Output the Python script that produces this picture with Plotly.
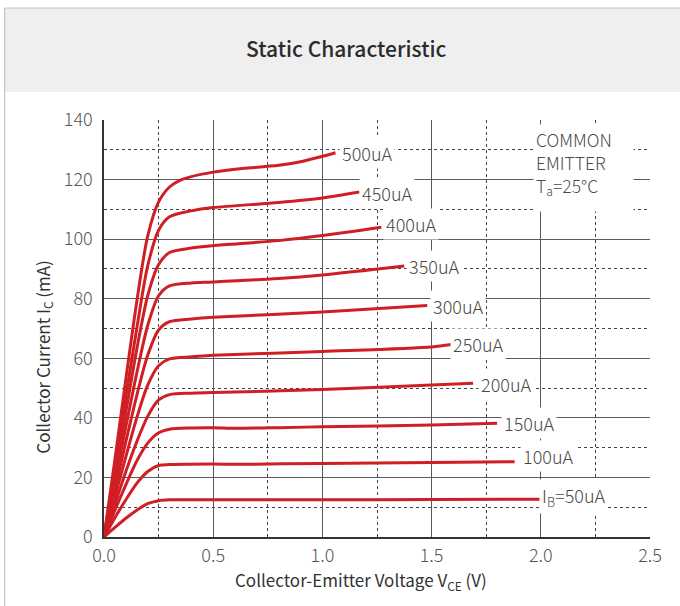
import plotly.graph_objects as go

# Collector current (mA) versus collector-emitter voltage (V) for each base current
vce_50 = [0, 0.05, 0.10, 0.15, 0.20, 0.25, 0.30, 0.50, 1.00, 1.50, 2.00]
ic_50 = [0, 3.2, 6.3, 9.0, 11.2, 12.2, 12.5, 12.5, 12.5, 12.6, 12.7]

vce_100 = [0, 0.05, 0.10, 0.15, 0.20, 0.25, 0.30, 0.50, 0.60, 1.00, 1.50, 1.88]
ic_100 = [0, 6.5, 12.5, 18.0, 22.0, 24.0, 24.3, 24.5, 24.4, 24.7, 25.0, 25.3]

vce_150 = [0, 0.05, 0.10, 0.15, 0.20, 0.25, 0.30, 0.40, 0.50, 0.60, 0.80, 1.00, 1.50, 1.80]
ic_150 = [0, 9.0, 17.5, 25.5, 31.5, 35.0, 36.2, 36.6, 36.7, 36.5, 36.7, 37.0, 37.6, 38.2]

vce_200 = [0, 0.05, 0.10, 0.15, 0.20, 0.25, 0.30, 0.40, 0.50, 1.00, 1.50, 1.69]
ic_200 = [0, 11.0, 22.0, 32.0, 40.5, 46.0, 47.8, 48.3, 48.5, 49.5, 51.0, 51.6]

vce_250 = [0, 0.05, 0.10, 0.15, 0.20, 0.25, 0.30, 0.40, 0.50, 1.00, 1.50, 1.59]
ic_250 = [0, 13.5, 27.0, 40.0, 51.0, 57.5, 59.8, 60.5, 61.0, 62.3, 63.8, 64.6]

vce_300 = [0, 0.05, 0.10, 0.15, 0.20, 0.25, 0.30, 0.40, 0.50, 1.00, 1.48]
ic_300 = [0, 16.0, 32.0, 47.5, 61.0, 69.5, 72.3, 73.2, 73.8, 75.5, 77.7]

vce_350 = [0, 0.05, 0.10, 0.15, 0.20, 0.25, 0.30, 0.40, 0.50, 0.80, 1.00, 1.375]
ic_350 = [0, 18.5, 37.0, 55.0, 71.0, 81.0, 84.3, 85.3, 85.6, 86.8, 88.0, 91.0]

vce_400 = [0, 0.05, 0.10, 0.15, 0.20, 0.25, 0.30, 0.40, 0.50, 0.80, 1.00, 1.27]
ic_400 = [0, 21.0, 42.0, 63.0, 81.0, 91.5, 95.5, 97.0, 97.8, 99.5, 101.2, 104.0]

vce_450 = [0, 0.05, 0.10, 0.15, 0.20, 0.25, 0.30, 0.40, 0.50, 0.80, 1.00, 1.17]
ic_450 = [0, 23.5, 47.0, 70.0, 91.0, 103.0, 107.5, 109.5, 110.6, 112.3, 113.8, 115.8]

vce_500 = [0, 0.05, 0.10, 0.15, 0.20, 0.25, 0.30, 0.35, 0.40, 0.50, 0.60, 0.80, 0.90, 1.00, 1.06]
ic_500 = [0, 26.0, 53.0, 79.0, 101.0, 112.5, 117.5, 119.8, 121.0, 122.5, 123.5, 124.8, 126.0, 127.8, 129.0]

curve_labels = ["I<sub>B</sub>=50uA", "100uA", "150uA", "200uA", "250uA",
                "300uA", "350uA", "400uA", "450uA", "500uA"]
label_x = [2.011, 1.925, 1.838, 1.731, 1.604, 1.509, 1.403, 1.295, 1.188, 1.093]
label_y = [13.7, 27.2, 38.4, 51.4, 64.8, 77.5, 91.0, 105.0, 115.4, 128.8]

x_ticks = [0.0, 0.5, 1.0, 1.5, 2.0, 2.5]
y_ticks = [0, 20, 40, 60, 80, 100, 120, 140]

series = [(vce_50, ic_50), (vce_100, ic_100), (vce_150, ic_150), (vce_200, ic_200),
          (vce_250, ic_250), (vce_300, ic_300), (vce_350, ic_350), (vce_400, ic_400),
          (vce_450, ic_450), (vce_500, ic_500)]

RED = "#d01f24"
FONT = "Noto Sans CJK JP"
TXT = "#4a4a4a"

fig = go.Figure()
for vx, iy in series:
    fig.add_trace(go.Scatter(
        x=vx, y=iy, mode="lines",
        line=dict(color=RED, width=3, shape="spline", smoothing=0.8),
        hoverinfo="skip", showlegend=False,
    ))

# base-current labels on white boxes that break the grid
for txt, lx, ly in zip(curve_labels, label_x, label_y):
    fig.add_annotation(
        x=lx, y=ly, xref="x", yref="y", text=txt, showarrow=False,
        xanchor="left", yanchor="middle", xshift=-4,
        bgcolor="white", borderpad=2,
        font=dict(family=FONT, size=18, color=TXT, weight=300),
    )

# plot area in pixels: left 104.3, right 650, top 120, bottom 537
L, R, T, B = 104.3, 650.0, 120.0, 537.0
W, H = R - L, B - T


def px(xp):
    return (xp - L) / W


def py(yp):
    return (B - yp) / H


fig.add_annotation(
    x=px(533), y=py(124), xref="paper", yref="paper",
    text="COMMON<br>EMITTER<br>T<sub>a</sub>=25°C", showarrow=False,
    xanchor="left", yanchor="top", align="left", valign="top",
    width=95, height=82, bgcolor="white", borderpad=2,
    font=dict(family=FONT, size=17.5, color=TXT, weight=300),
)

# header band and page border
shapes = [
    dict(type="rect", xref="paper", yref="paper", x0=px(5), x1=px(690), y0=py(92), y1=py(8),
         fillcolor="#efefef", line=dict(width=0), layer="below"),
    dict(type="line", xref="paper", yref="paper", x0=px(5), x1=px(690), y0=py(8), y1=py(8),
         line=dict(color="#c4c4c4", width=1.2)),
    dict(type="line", xref="paper", yref="paper", x0=px(5), x1=px(5), y0=py(8), y1=py(610),
         line=dict(color="#c4c4c4", width=1.2)),
]

fig.add_annotation(
    x=px(347), y=py(48), xref="paper", yref="paper", text="Static Characteristic",
    showarrow=False, xanchor="center", yanchor="middle",
    font=dict(family=FONT, size=21, color="#2b2b2b", weight=500),
)
fig.add_annotation(
    x=px(361.5), y=py(580), xref="paper", yref="paper",
    text="Collector-Emitter Voltage V<sub>CE</sub> (V)",
    showarrow=False, xanchor="center", yanchor="middle",
    font=dict(family=FONT, size=17, color="#333333"),
)
fig.add_annotation(
    x=px(43), y=py(357), xref="paper", yref="paper",
    text="Collector Current I<sub>C</sub> (mA)", textangle=-90,
    showarrow=False, xanchor="center", yanchor="middle",
    font=dict(family=FONT, size=17, color="#333333"),
)

axis_common = dict(
    showgrid=True, gridcolor="#5a5a5a", gridwidth=1.2,
    zeroline=False, showline=True, linecolor="#333333", linewidth=1.5,
    ticks="", tickfont=dict(family=FONT, size=18, color="#555555", weight=300),
)

fig.update_xaxes(
    range=[0, 2.5], tickvals=x_ticks, ticktext=[f"{v:.1f}" for v in x_ticks],
    minor=dict(dtick=0.25, showgrid=True, gridcolor="#444444", griddash="dot", gridwidth=1.2),
    ticklabelstandoff=2, **axis_common,
)
fig.update_yaxes(
    range=[0, 140], tickvals=y_ticks,
    minor=dict(dtick=10, showgrid=True, gridcolor="#444444", griddash="dot", gridwidth=1.2),
    ticklabelstandoff=6, **axis_common,
)

fig.update_layout(
    width=680, height=606,
    margin=dict(l=L, r=680 - R, t=T, b=606 - B, pad=0),
    paper_bgcolor="white", plot_bgcolor="white",
    shapes=shapes,
)

fig.write_html("out.html")
